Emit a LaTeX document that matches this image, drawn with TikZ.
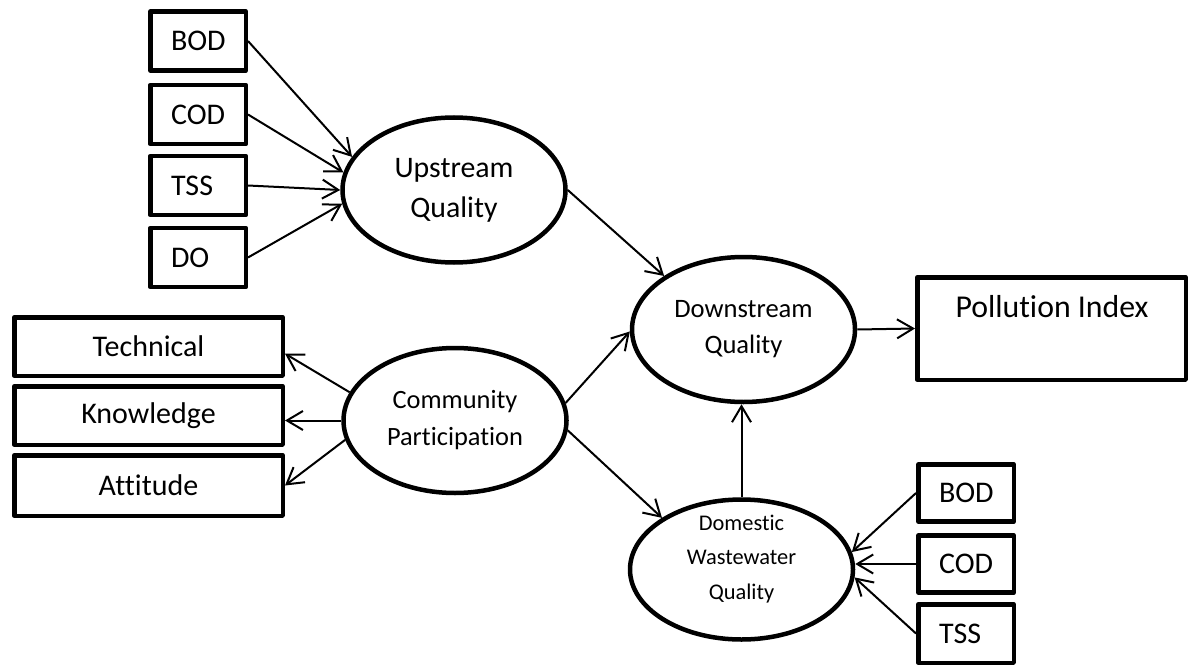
\documentclass[tikz,border=0pt]{standalone}
\usepackage{fontspec}
\setmainfont{Carlito}[Ligatures={NoCommon}]
\usetikzlibrary{arrows.meta,shapes.geometric}

\begin{document}
\begin{tikzpicture}[x=1pt,y=-1pt,
  every node/.style={inner sep=0pt},
  lbl/.style={font=\fontsize{30}{36}\selectfont},
  boxnode/.style={draw, rectangle, line width=4.5pt, line join=round},
  smallbox/.style={boxnode, lbl, minimum width=95.5pt, minimum height=57pt,
                   text width=54pt, align=left},
  widebox/.style={boxnode, lbl, minimum width=268.5pt, minimum height=58.5pt},
  latent/.style={draw, ellipse, line width=4.5pt, minimum width=223pt,
                 minimum height=145pt, align=center},
  link/.style={draw, line width=2pt, -{Straight Barb[length=16pt,width=19pt]}}
 ]
\useasboundingbox (0,0) rectangle (1190,666);
\fill[white] (0,0) rectangle (1190,666);

% upstream indicators
\node[smallbox, minimum height=59pt] (bodA) at (198,41)    {BOD};
\node[smallbox, minimum height=59pt] (codA) at (198,114.5) {COD};
\node[smallbox, minimum height=59pt] (tssA) at (198,185.5) {TSS};
\node[smallbox, minimum height=59pt] (doA)  at (198,257.5) {DO};

% community participation indicators
\node[widebox] (tech) at (148.5,346.5) {Technical};
\node[widebox] (know) at (148.5,415.5) {Knowledge};
\node[widebox, minimum height=60.5pt] (att) at (148.5,485.5) {Attitude};

% latent variables
\node[latent, font=\fontsize{29.8}{40}\selectfont] (up)   at (454,190)     {Upstream\\Quality};
\node[latent, font=\fontsize{26.4}{37}\selectfont] (com)  at (455,420.5)   {Community\\Participation};
\node[latent, font=\fontsize{26.6}{36}\selectfont] (down) at (743.5,329.5) {Downstream\\Quality};
\node[latent, minimum height=140pt]                (dom)  at (741.5,569.5) {};
\node[font=\fontsize{22.4}{34.5}\selectfont, align=center] (domt) at (741.5,559)
     {Domestic\\Wastewater\\Quality};

% outcome
\node[boxnode, minimum width=268.5pt, minimum height=102.5pt] (pidx) at (1051.5,328.5) {};
\node[font=\fontsize{31.8}{38}\selectfont] (pidxt) at (1052,307) {Pollution Index};

% domestic wastewater indicators
\node[smallbox] (bodB) at (966,493) {BOD};
\node[smallbox] (codB) at (966,564) {COD};
\node[smallbox, minimum height=58.5pt] (tssB) at (966,633.5) {TSS};

% paths
\draw[link] (bodA.east) -- (up.162);
\draw[link] (codA.east) -- (up.171);
\draw[link] (tssA.east) -- (up.180);
\draw[link] (doA.east)  -- (up.187);

\draw[link] (up.east) -- (down.146);
\draw[link] (com.9)   -- (down.181);
\draw[link] (com.-5)  -- (dom.147);

\draw[link] (com.165)  -- (tech.-3);
\draw[link] (com.west) -- (com.west -| know.east);
\draw[link] (com.190)  -- (att.east);

\draw[link] (dom.north) -- (dom.north |- down.south);
\draw[link] (down.east) -- (pidx.west);

\draw[link] (bodB.west) -- (dom.9);
\draw[link] (codB.west) -- (codB.west -| dom.east);
\draw[link] (tssB.west) -- (dom.-4);
\end{tikzpicture}
\end{document}
